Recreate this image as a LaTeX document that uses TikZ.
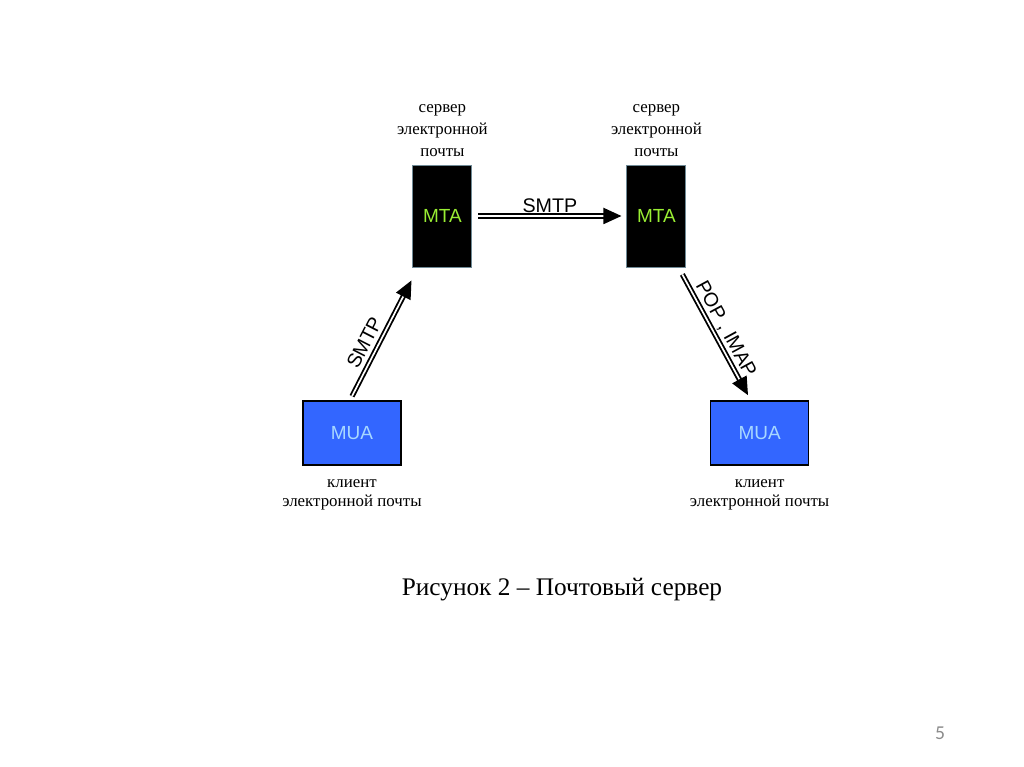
\documentclass[tikz,border=0pt]{standalone}
\usepackage{fontspec}
\setmainfont{Liberation Serif}
\setsansfont{Liberation Sans}
\newfontfamily\slidefont{Carlito}
\usetikzlibrary{positioning,arrows.meta}
\definecolor{mtagreen}{HTML}{99EE33}
\definecolor{mtaedge}{HTML}{6F8A96}
\definecolor{muablue}{HTML}{3366FF}
\definecolor{mualight}{HTML}{A8D8FF}
\tikzset{
  mtbox/.style={rectangle, draw=mtaedge, fill=black, line width=0.6pt,
                minimum width=1.475cm, minimum height=2.55cm, inner sep=0pt,
                text=mtagreen, font=\sffamily\fontsize{13.5}{15}\selectfont},
  mubox/.style={rectangle, draw=black, fill=muablue, line width=1.1pt,
                minimum width=2.45cm, minimum height=1.6cm, inner sep=0pt,
                text=mualight, font=\sffamily\fontsize{13.5}{15}\selectfont},
  mtnote/.style={align=center, inner sep=0pt,
                 font=\fontsize{12}{15.5}\selectfont},
  munote/.style={align=center, inner sep=0pt,
                 font=\fontsize{12}{14}\selectfont},
  mlink/.style={draw=black, double=white, line width=1.3pt,
                double distance=1.2pt,
                -{Triangle[length=0.45cm, width=0.4cm]}},
  mlabel/.style={font=\sffamily\fontsize{14}{16}\selectfont, inner sep=2pt}
}
\begin{document}
\begin{tikzpicture}
  \useasboundingbox (0,0) rectangle (25.6,19.175);
  % servers
  \node[mtbox] (mta1) at (11.06, 13.775) {MTA};
  \node[mtbox] (mta2) at (16.41, 13.775) {MTA};
  \node[mtnote, above=0.2cm of mta1] (srv1) {сервер\\электронной\\почты};
  \node[mtnote, above=0.2cm of mta2] (srv2) {сервер\\электронной\\почты};
  % clients
  \node[mubox] (mua1) at (8.8, 8.35) {MUA};
  \node[mubox] (mua2) at (18.99, 8.35) {MUA};
  \node[munote, below=0.33cm of mua1] (cli1) {клиент\\электронной почты};
  \node[munote, below=0.33cm of mua2] (cli2) {клиент\\электронной почты};
  % protocols
  \draw[mlink] ([xshift=0.15cm]mta1.east) -- ([xshift=-0.125cm]mta2.west)
    node[mlabel, midway, above] {SMTP};
  \draw[mlink] ([yshift=0.1cm]mua1.north) -- ([shift={(-0.025,-0.325)}]mta1.south west)
    node[mlabel, pos=0.41, above=2pt, sloped] {SMTP};
  \draw[mlink] ([shift={(-0.1,-0.175)}]mta2.south east) -- ([shift={(-0.29,0.125)}]mua2.north)
    node[mlabel, midway, above, sloped] {POP , IMAP};
  % caption and page number
  \node[font=\fontsize{18}{20}\selectfont] (cap) at (14.05, 4.425)
    {Рисунок 2 – Почтовый сервер};
  \node[font=\slidefont\fontsize{14}{16}\selectfont, text=black!45] (page)
    at (23.5, 0.85) {5};
\end{tikzpicture}
\end{document}
